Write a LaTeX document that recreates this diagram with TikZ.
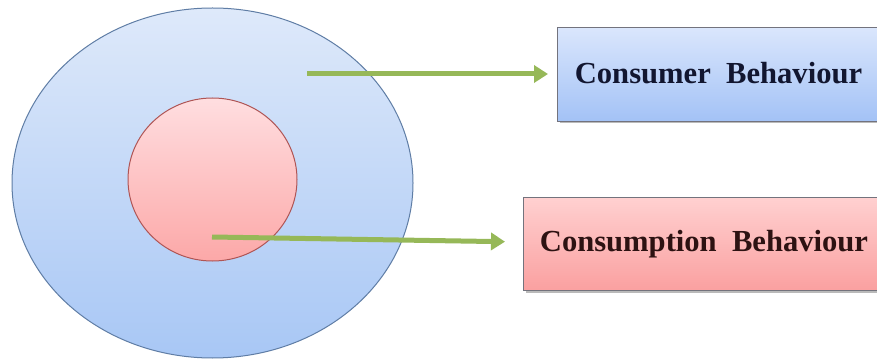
\documentclass[tikz,border=0pt]{standalone}
\usepackage{fontspec}
\setmainfont{Liberation Serif}
\usetikzlibrary{arrows.meta,shadows,shapes.geometric}

\definecolor{outerTop}{RGB}{222,233,250}
\definecolor{outerBot}{RGB}{168,199,245}
\definecolor{outerLine}{RGB}{95,125,165}
\definecolor{innerTop}{RGB}{255,222,224}
\definecolor{innerBot}{RGB}{252,168,168}
\definecolor{innerLine}{RGB}{175,85,85}
\definecolor{blueTop}{RGB}{218,230,252}
\definecolor{blueBot}{RGB}{163,194,246}
\definecolor{pinkTop}{RGB}{255,208,208}
\definecolor{pinkBot}{RGB}{250,160,160}
\definecolor{boxLine}{RGB}{115,115,125}
\definecolor{arrowGreen}{RGB}{150,184,88}
\definecolor{txtBlue}{RGB}{18,22,48}
\definecolor{txtRed}{RGB}{45,18,18}

\tikzset{
  labelbox/.style={rectangle, draw=boxLine, line width=1pt, anchor=north west,
    drop shadow={shadow xshift=2pt, shadow yshift=-2pt, fill=black!45, opacity=0.6}},
  pointer/.style={draw=arrowGreen, line width=5pt,
    -{Triangle[width=17pt,length=14pt]}},
  boxtext/.style={font=\bfseries\fontsize{30.6}{36}\selectfont, anchor=center}
}

\begin{document}
\begin{tikzpicture}[x=1pt,y=1pt]
  \useasboundingbox[fill=white] (0,0) rectangle (877,-363);
  \clip (0,0) rectangle (877,-363);

  % outer ring: consumer behaviour
  \node (outer) [ellipse, minimum width=401pt, minimum height=350pt,
    top color=outerTop, bottom color=outerBot, draw=outerLine, line width=1pt]
    at (212.5,-183) {};
  % inner disc: consumption behaviour
  \node (inner) [ellipse, minimum width=169pt, minimum height=163pt,
    top color=innerTop, bottom color=innerBot, draw=innerLine, line width=1pt]
    at (212.5,-179.5) {};

  % label boxes
  \node (cbox) [labelbox, minimum width=340pt, minimum height=94pt,
    top color=blueTop, bottom color=blueBot] at (557,-27) {};
  \node[boxtext, text=txtBlue] at (718.5,-73) {Consumer\ \ Behaviour};

  \node (pbox) [labelbox, minimum width=370pt, minimum height=93pt,
    top color=pinkTop, bottom color=pinkBot] at (523,-197) {};
  \node[boxtext, text=txtRed] at (704,-244) {Consumption\ \ Behaviour};

  % pointers from the rings to their labels
  \coordinate (s1) at (307,-74);
  \coordinate (s2) at (212,-237);
  \coordinate (e1) at (cbox.west |- s1);
  \coordinate (e2) at ([yshift=-5pt]pbox.west |- s2);
  \draw[pointer, shorten >=9pt] (s1) -- (e1);
  \draw[pointer, shorten >=18pt] (s2) -- (e2);
\end{tikzpicture}
\end{document}
